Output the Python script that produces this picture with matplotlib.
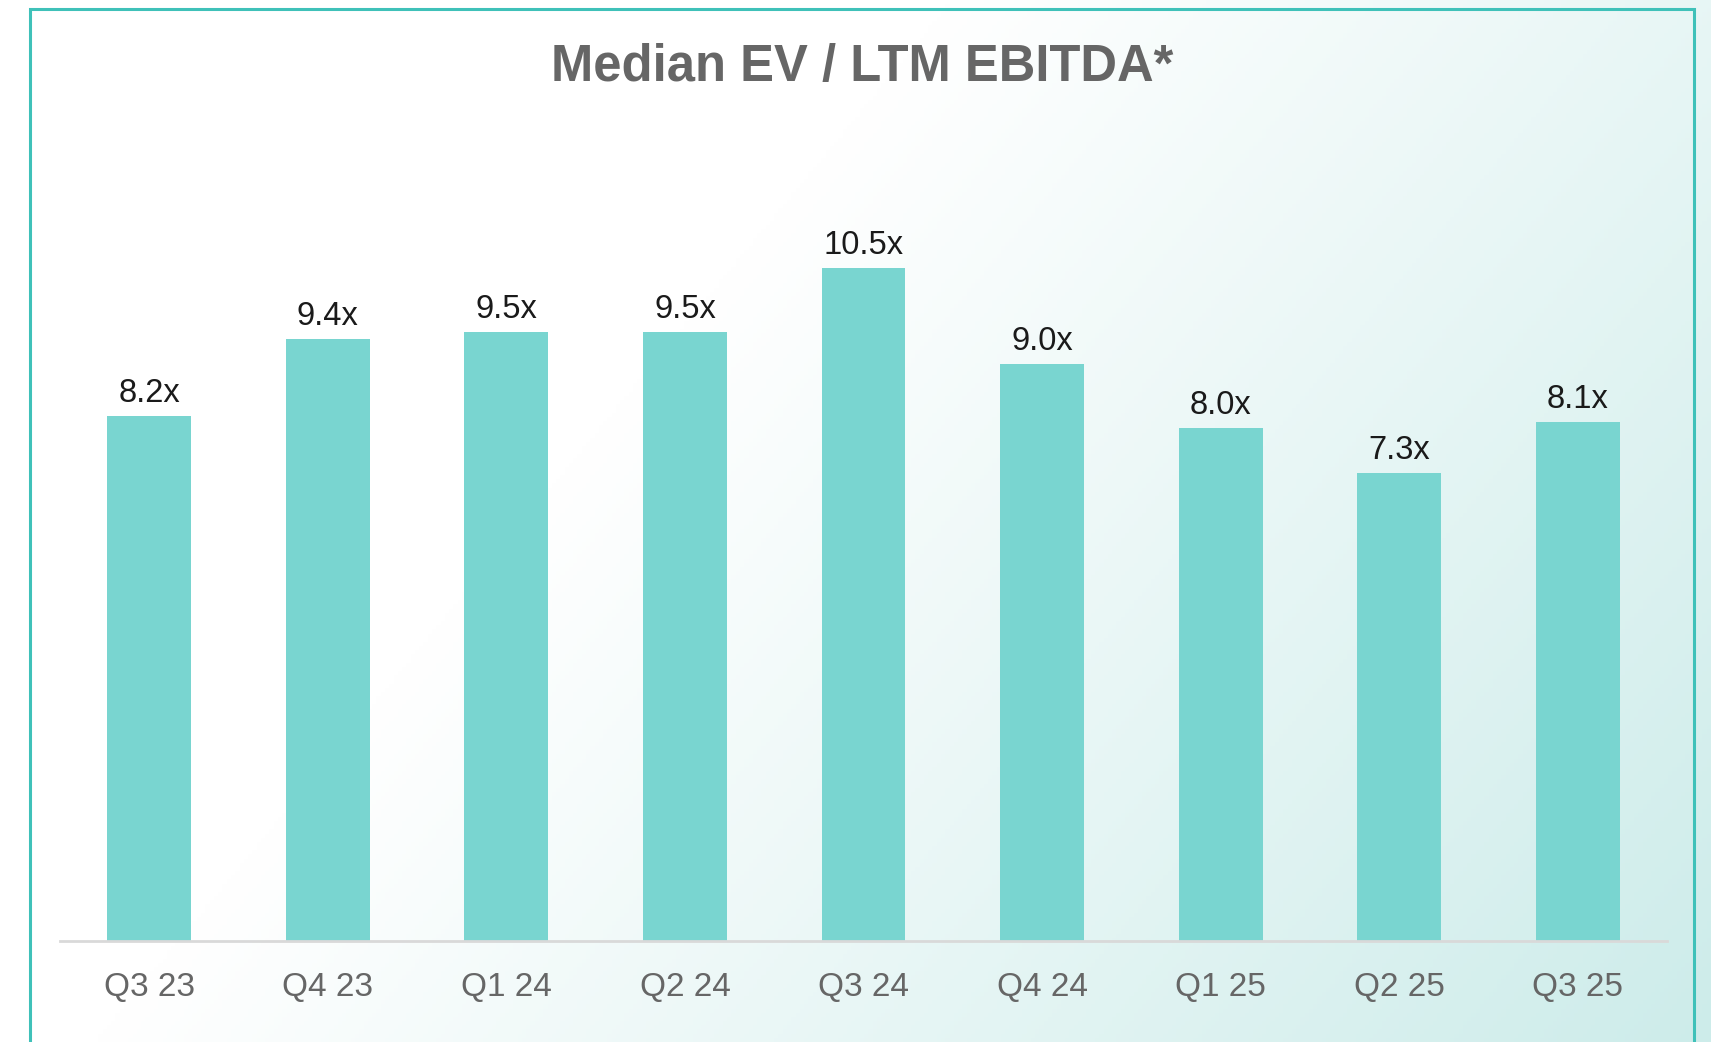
import matplotlib

matplotlib.use("Agg")
import matplotlib.pyplot as plt
import numpy as np
from matplotlib.colors import to_rgb
from matplotlib.patches import Rectangle

quarters = ["Q3 23", "Q4 23", "Q1 24", "Q2 24", "Q3 24", "Q4 24", "Q1 25", "Q2 25", "Q3 25"]
multiples = [8.2, 9.4, 9.5, 9.5, 10.5, 9.0, 8.0, 7.3, 8.1]
value_labels = [f"{v:.1f}x" for v in multiples]

W, H = 1711, 1042
plt.rcParams["font.family"] = ["Liberation Sans", "DejaVu Sans"]

fig = plt.figure(figsize=(W / 100, H / 100), dpi=100)

# soft diagonal background wash, white top-left to pale teal bottom-right
bg = fig.add_axes([0, 0, 1, 1], zorder=0)
xx, yy = np.meshgrid(np.linspace(0, 1, 400), np.linspace(0, 1, 250))
t = np.clip((0.9 * xx + 0.45 * yy - 0.5) / 0.85, 0, 1)
c0 = np.array([1.0, 1.0, 1.0])
c1 = np.array(to_rgb("#cdecea"))
bg.imshow(c0 + (c1 - c0) * t[..., None], extent=[0, 1, 0, 1], aspect="auto", origin="upper")
bg.set_xlim(0, 1)
bg.set_ylim(0, 1)
bg.axis("off")

# teal frame, open at the bottom edge of the image
frame = Rectangle((30 / W, -0.05), (1694 - 30) / W, 1.05 - 9 / H,
                  transform=fig.transFigure, fill=False, edgecolor="#3fc1b9",
                  linewidth=2.2, zorder=1)
fig.patches.append(frame)

ax = fig.add_axes([60 / W, (H - 941) / H, (1667 - 60) / W, 801 / H], zorder=2)
ax.patch.set_alpha(0)

x = np.arange(len(quarters))
ax.bar(x, multiples, width=0.47, color="#79d5d0", zorder=2)
for xi, v, lab in zip(x, multiples, value_labels):
    ax.annotate(lab, (xi, v), xytext=(0, 5), textcoords="offset points",
                ha="center", va="bottom", fontsize=23.5, color="#1a1a1a")

ax.set_xlim(-0.5, 8.5)
ax.set_ylim(0, 12.5)
ax.set_xticks(x)
ax.set_xticklabels(quarters, fontsize=24, color="#666666")
ax.tick_params(axis="x", length=0, pad=22)
ax.set_yticks([])
for side in ["top", "left", "right"]:
    ax.spines[side].set_visible(False)
ax.spines["bottom"].set_color("#d9d9d9")
ax.spines["bottom"].set_linewidth(2)

fig.text(862 / W, 1 - 67 / H, "Median EV / LTM EBITDA*", ha="center", va="center",
         fontsize=36.5, fontweight="bold", color="#666666")

fig.savefig("out.png", dpi=100)
